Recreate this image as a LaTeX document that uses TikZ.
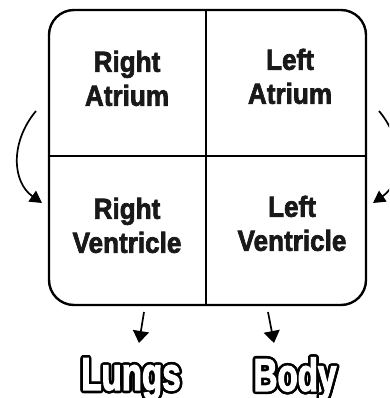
\documentclass[tikz,border=0pt]{standalone}
\usepackage{fontspec}
\usetikzlibrary{arrows.meta,calc}
\newfontfamily\cellfont{Liberation Sans Bold}[FakeBold=2.5]
\newfontfamily\outfont{Liberation Sans Bold}[FakeBold=3]
\newcommand{\celltext}[2]{\scalebox{0.9}[1]{\begin{tabular}{@{}c@{}}#1\\#2\end{tabular}}}
\newcommand{\outword}[1]{\scalebox{0.72}[1]{#1}}
\begin{document}
\begin{tikzpicture}[x=1pt,y=-1pt,
  cell/.style={font=\cellfont\fontsize{29}{34}\selectfont, inner sep=0pt, text=black!90},
  outtxt/.style={font=\outfont\fontsize{46}{46}\selectfont, inner sep=0pt},
  flow/.style={line width=1.7pt, -{Triangle[length=12pt,width=13pt]}},
  down/.style={line width=1.7pt, -{Triangle[length=12pt,width=16pt]}}]
\useasboundingbox (0,0) rectangle (389,398);
\clip (0,0) rectangle (389,398);
% heart box
\draw[line width=2.4pt, rounded corners=25pt] (49,10) rectangle (366,305);
\draw[line width=2.2pt] (206,10) -- (206,305);
\draw[line width=2.2pt] (49,156) -- (366,156);
% chamber labels
\node[cell] (RA) at (127,82) {\celltext{Right}{Atrium}};
\node[cell] (LA) at (290,80) {\celltext{Left}{Atrium}};
\node[cell] (RV) at (127,229) {\celltext{Right}{Ventricle}};
\node[cell] (LV) at (292,227) {\celltext{Left}{Ventricle}};
% curved arrows
\coordinate (la1) at (36,111);
\coordinate (la2) at (42,203);
\coordinate (ra1) at (379,111);
\coordinate (ra2) at (373,203);
\draw[flow] (la1) .. controls (10,142) and (12,182) .. (la2);
\draw[flow] (ra1) .. controls (405,142) and (403,182) .. (ra2);
% down arrows
\coordinate (d1a) at (144,312);
\coordinate (d1b) at (139,343);
\coordinate (d2a) at (268,312);
\coordinate (d2b) at (274,343);
\draw[down] (d1a) -- (d1b);
\draw[down] (d2a) -- (d2b);
% outlined words
\foreach \a in {0,22.5,...,337.5} {
  \node[outtxt, text=black] (Ls\a) at ($(131,379)+(\a:2.6)$) {\outword{Lungs}};
  \node[outtxt, text=black] (Bs\a) at ($(295,379)+(\a:2.6)$) {\outword{Body}};
}
\node[outtxt, text=white] (Lungs) at (131,379) {\outword{Lungs}};
\node[outtxt, text=white] (Body) at (295,379) {\outword{Body}};
\end{tikzpicture}
\end{document}
